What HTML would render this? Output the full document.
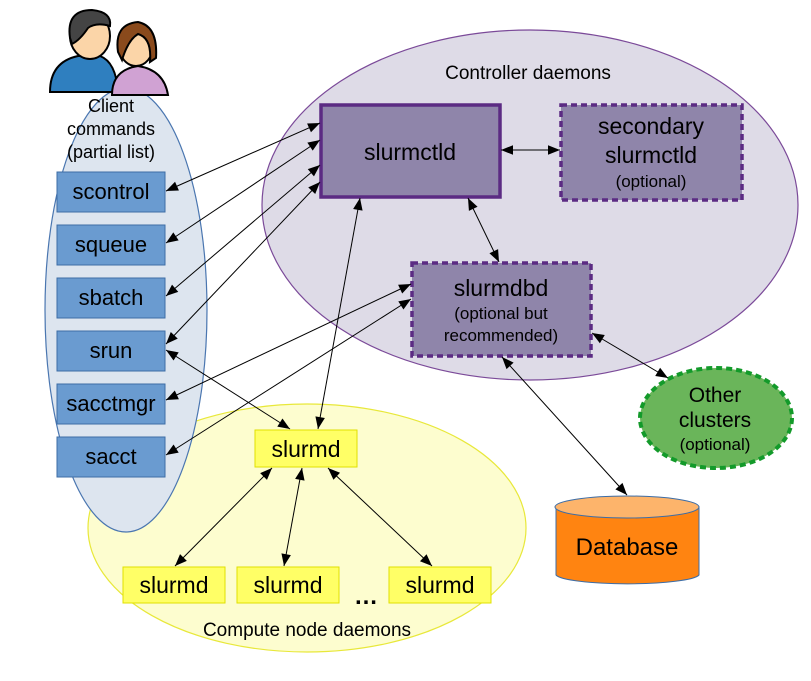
<!DOCTYPE html>
<html><head><meta charset="utf-8"><style>body{margin:0;background:#fff}svg{display:block}text{font-family:"Liberation Sans",sans-serif}</style></head>
<body>
<svg width="811" height="681" viewBox="0 0 811 681">
<defs>
<marker id="a" viewBox="0 0 10 10" refX="10" refY="5" markerWidth="14" markerHeight="12" orient="auto-start-reverse" markerUnits="userSpaceOnUse"><path d="M0,1 L10,5 L0,9 z" fill="#000"/></marker>
</defs>
<ellipse cx="530" cy="205" rx="268" ry="175" fill="#dedbe7" stroke="#7b4a99" stroke-width="1.2"/>
<ellipse cx="307" cy="528" rx="219" ry="124" fill="#fdfdcf" stroke="#e8e83a" stroke-width="1.2"/>
<ellipse cx="126" cy="310" rx="81" ry="222" fill="#dde5ef" stroke="#4a76b0" stroke-width="1.2"/>
<!-- people -->
<g stroke="#000" stroke-width="2">
<path d="M50,92 Q50,62 78,56 L100,56 Q116,62 118,92 Z" fill="#2f7fbf"/>
<ellipse cx="90" cy="36" rx="20" ry="23" fill="#fbd5a8"/>
<path d="M70,38 Q66,10 92,10 Q112,12 110,26 Q96,22 88,28 Q80,40 72,44Z" fill="#444"/>
<path d="M112,95 Q112,70 138,66 Q164,70 168,95 Z" fill="#d0a2d3"/>
<ellipse cx="136" cy="46" rx="17" ry="20" fill="#fbd5a8"/>
<path d="M118,52 Q114,24 138,22 Q158,26 156,58 L150,62 Q152,38 138,34 Q128,40 122,60Z" fill="#8a4a1c"/>
</g>
<text x="111" y="112" font-size="18" text-anchor="middle">Client</text>
<text x="111" y="135" font-size="18" text-anchor="middle">commands</text>
<text x="111" y="158" font-size="18" text-anchor="middle">(partial list)</text>
<g fill="#6a9bd0" stroke="#3d6da6" stroke-width="1">
<rect x="57" y="172" width="108" height="40"/><rect x="57" y="225" width="108" height="40"/><rect x="57" y="278" width="108" height="40"/><rect x="57" y="331" width="108" height="40"/><rect x="57" y="384" width="108" height="40"/><rect x="57" y="437" width="108" height="40"/>
</g>
<g font-size="22" text-anchor="middle">
<text x="111" y="199">scontrol</text><text x="111" y="252">squeue</text><text x="111" y="305">sbatch</text><text x="111" y="358">srun</text><text x="111" y="411">sacctmgr</text><text x="111" y="464">sacct</text>
</g>
<text x="528" y="79" font-size="19" text-anchor="middle">Controller daemons</text>
<rect x="321" y="105" width="179" height="92" fill="#8f85aa" stroke="#5b2b83" stroke-width="3.5"/>
<text x="410" y="160" font-size="23" text-anchor="middle">slurmctld</text>
<rect x="561" y="105" width="181" height="95" fill="#8f85aa" stroke="#5b2b83" stroke-width="3.5" stroke-dasharray="6,4"/>
<text x="651" y="134" font-size="23" text-anchor="middle">secondary</text>
<text x="651" y="163" font-size="23" text-anchor="middle">slurmctld</text>
<text x="651" y="187" font-size="17" text-anchor="middle">(optional)</text>
<rect x="412" y="263" width="179" height="93" fill="#8f85aa" stroke="#5b2b83" stroke-width="3.5" stroke-dasharray="6,4"/>
<text x="501" y="296" font-size="23" text-anchor="middle">slurmdbd</text>
<text x="501" y="319" font-size="17" text-anchor="middle">(optional but</text>
<text x="501" y="341" font-size="17" text-anchor="middle">recommended)</text>
<ellipse cx="716" cy="418" rx="76" ry="50" fill="#6ab55a" stroke="#139a2a" stroke-width="4" stroke-dasharray="6,4"/>
<text x="715" y="402" font-size="21" text-anchor="middle">Other</text>
<text x="715" y="427" font-size="21" text-anchor="middle">clusters</text>
<text x="715" y="450" font-size="17" text-anchor="middle">(optional)</text>
<path d="M556,507 L556,575 A72,10 0 0 0 699,575 L699,507 Z" fill="#ff8411" stroke="#3d6da6"/>
<ellipse cx="627" cy="507" rx="72" ry="11" fill="#fdb46b" stroke="#3d6da6"/>
<text x="627" y="555" font-size="24" text-anchor="middle">Database</text>
<g fill="#ffff66" stroke="#e0e000" stroke-width="1">
<rect x="255" y="430" width="102" height="37"/><rect x="123" y="567" width="102" height="36"/><rect x="237" y="567" width="102" height="36"/><rect x="389" y="567" width="102" height="36"/>
</g>
<g font-size="23" text-anchor="middle">
<text x="306" y="457">slurmd</text><text x="174" y="593">slurmd</text><text x="288" y="593">slurmd</text><text x="440" y="593">slurmd</text>
</g>
<text x="366" y="604" font-size="24" font-weight="bold" text-anchor="middle">…</text>
<text x="307" y="636" font-size="19" text-anchor="middle">Compute node daemons</text>
<g stroke="#000" stroke-width="1" marker-start="url(#a)" marker-end="url(#a)">
<line x1="166" y1="191" x2="320" y2="123"/>
<line x1="166" y1="243" x2="320" y2="140"/>
<line x1="166" y1="296" x2="320" y2="165"/>
<line x1="166" y1="344" x2="320" y2="182"/>
<line x1="166" y1="400" x2="411" y2="284"/>
<line x1="166" y1="455" x2="411" y2="299"/>
<line x1="166" y1="350" x2="290" y2="429"/>
<line x1="360" y1="198" x2="318" y2="429"/>
<line x1="501" y1="150" x2="560" y2="150"/>
<line x1="468" y1="198" x2="499" y2="262"/>
<line x1="592" y1="333" x2="668" y2="378"/>
<line x1="502" y1="357" x2="627" y2="495"/>
<line x1="272" y1="468" x2="175" y2="566"/>
<line x1="302" y1="468" x2="284" y2="566"/>
<line x1="328" y1="468" x2="432" y2="566"/>
</g>
</svg>
</body></html>
